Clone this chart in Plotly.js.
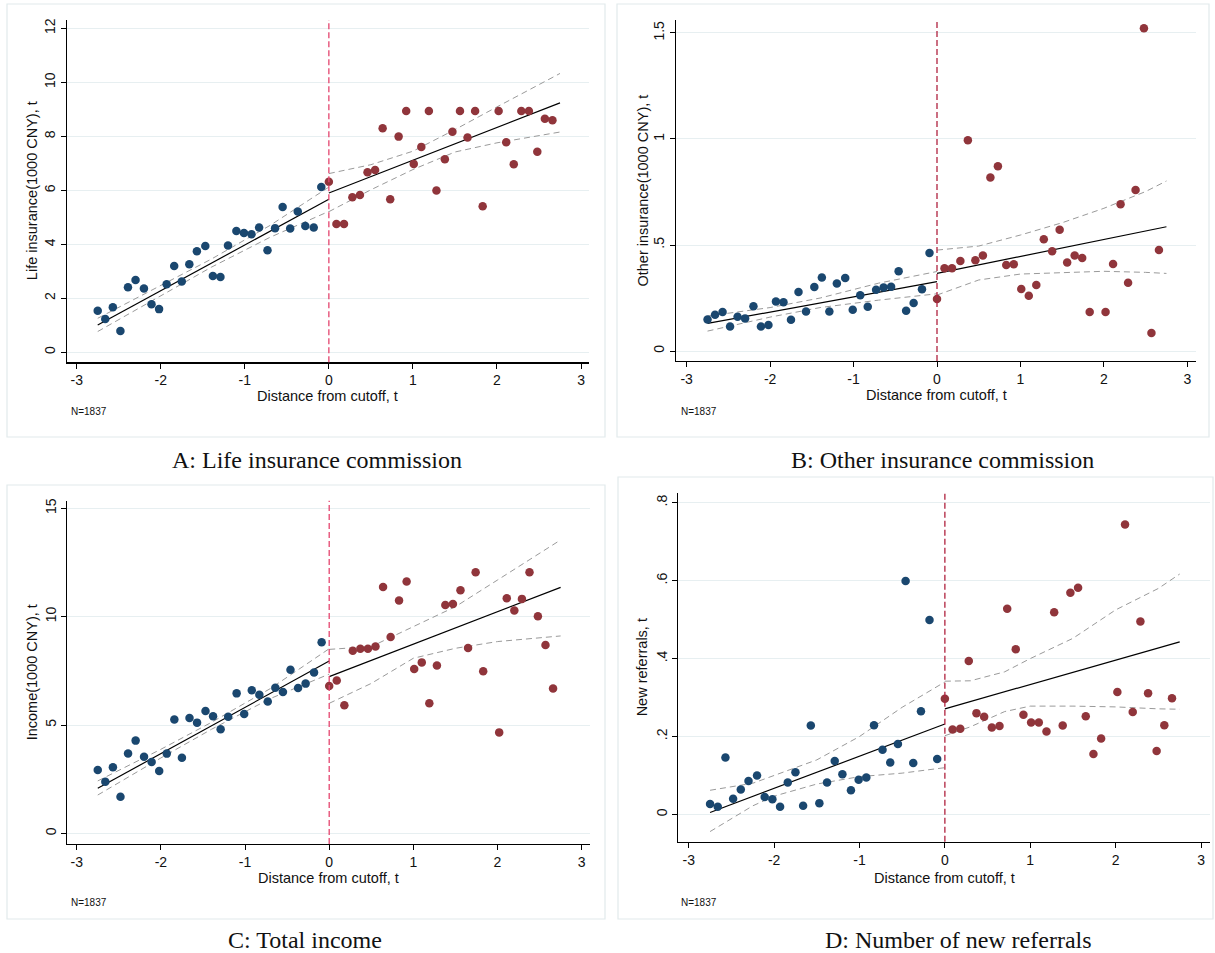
<!DOCTYPE html>
<html>
<head>
<meta charset="utf-8">
<script src="https://cdn.plot.ly/plotly-3.0.1.min.js"></script>
<style>
  html, body { margin: 0; padding: 0; background: #ffffff; }
  #chart { width: 1215px; height: 953px; }
</style>
</head>
<body>
<div id="chart"></div>
<script>
// Bin positions (distance from cutoff, t) shared by all four panels
const binLeft = [-2.75, -2.66, -2.57, -2.48, -2.39, -2.30, -2.20, -2.11, -2.02, -1.93,
                 -1.84, -1.75, -1.66, -1.57, -1.47, -1.38, -1.29, -1.20, -1.10, -1.01,
                 -0.92, -0.83, -0.73, -0.64, -0.55, -0.46, -0.37, -0.28, -0.18, -0.09];
const binRight = [0.00, 0.09, 0.18, 0.28, 0.37, 0.46, 0.55, 0.64, 0.73, 0.83,
                  0.92, 1.01, 1.10, 1.19, 1.28, 1.38, 1.47, 1.56, 1.65, 1.74,
                  1.83, 2.02, 2.11, 2.20, 2.29, 2.38, 2.48, 2.57, 2.66];

// Panel A: life insurance commission (1000 CNY)
const lifeLeft = [1.54, 1.23, 1.67, 0.79, 2.41, 2.68, 2.36, 1.78, 1.60, 2.52,
                  3.20, 2.62, 3.26, 3.74, 3.94, 2.83, 2.79, 3.96, 4.49, 4.42,
                  4.37, 4.62, 3.78, 4.60, 5.38, 4.59, 5.22, 4.68, 4.62, 6.12];
const lifeRight = [6.32, 4.75, 4.75, 5.74, 5.83, 6.67, 6.75, 8.30, 5.67, 7.99,
                   8.94, 6.98, 7.61, 8.94, 5.99, 7.15, 8.17, 8.94, 7.96, 8.94,
                   5.41, 8.94, 7.78, 6.97, 8.94, 8.94, 7.43, 8.65, 8.60];

// Panel B: other insurance commission (1000 CNY)
const otherLeft = [0.149, 0.171, 0.184, 0.116, 0.162, 0.154, 0.211, 0.116, 0.123, 0.234,
                   0.230, 0.148, 0.278, 0.186, 0.302, 0.347, 0.186, 0.318, 0.344, 0.195,
                   0.263, 0.209, 0.289, 0.300, 0.303, 0.376, 0.190, 0.226, 0.291, 0.462];
const otherRight = [0.245, 0.390, 0.390, 0.425, 0.994, 0.428, 0.450, 0.818, 0.871, 0.406,
                    0.409, 0.292, 0.261, 0.311, 0.527, 0.470, 0.572, 0.417, 0.451, 0.439,
                    0.184, 0.184, 0.410, 0.692, 0.322, 0.759, 1.522, 0.085, 0.476];

// Panel C: total income (1000 CNY)
const incomeLeft = [2.92, 2.38, 3.05, 1.69, 3.69, 4.28, 3.54, 3.29, 2.88, 3.68,
                    5.25, 3.49, 5.32, 5.11, 5.65, 5.40, 4.80, 5.38, 6.46, 5.51,
                    6.60, 6.40, 6.08, 6.72, 6.52, 7.55, 6.71, 6.91, 7.42, 8.82];
const incomeRight = [6.80, 7.05, 5.91, 8.43, 8.52, 8.52, 8.62, 11.37, 9.06, 10.75,
                     11.62, 7.58, 7.89, 6.00, 7.75, 10.54, 10.58, 11.22, 8.55, 12.05,
                     7.48, 4.66, 10.85, 10.28, 10.82, 12.05, 10.02, 8.69, 6.68];

// Panel D: number of new referrals
const referLeft = [0.027, 0.020, 0.146, 0.040, 0.064, 0.086, 0.100, 0.045, 0.039, 0.020,
                   0.082, 0.108, 0.022, 0.228, 0.029, 0.082, 0.137, 0.103, 0.062, 0.089,
                   0.095, 0.229, 0.166, 0.133, 0.181, 0.599, 0.132, 0.265, 0.499, 0.142];
const referRight = [0.297, 0.218, 0.220, 0.394, 0.260, 0.251, 0.223, 0.227, 0.528, 0.424,
                    0.256, 0.236, 0.236, 0.213, 0.519, 0.228, 0.569, 0.582, 0.252, 0.155,
                    0.195, 0.314, 0.744, 0.263, 0.495, 0.311, 0.163, 0.229, 0.298];

// Fitted lines and 95% confidence bands on each side of the cutoff
const fitX = { left: [-2.75, 0], right: [0, 2.75] };
const lifeFit = { left: [1.01, 5.67], right: [5.90, 9.24] };
const otherFit = { left: [0.130, 0.327], right: [0.366, 0.586] };
const incomeFit = { left: [2.08, 7.95], right: [7.23, 11.35] };
const referFit = { left: [0.005, 0.232], right: [0.271, 0.443] };

const ciXLeft = [-2.75, -2.0, -1.4, -0.7, 0];
const ciXRight = [0, 0.5, 1.0, 1.5, 2.0, 2.5, 2.75];
const lifeCI = {
  leftUp: [1.26, 2.48, 3.45, 4.70, 6.12], leftLo: [0.77, 2.08, 3.15, 4.26, 5.22],
  rightUp: [6.62, 6.95, 7.45, 8.25, 9.09, 9.92, 10.33], rightLo: [5.21, 6.02, 6.77, 7.42, 7.76, 8.02, 8.16]
};
const otherCI = {
  leftUp: [0.165, 0.205, 0.250, 0.320, 0.375], leftLo: [0.094, 0.160, 0.205, 0.240, 0.270],
  rightUp: [0.476, 0.495, 0.547, 0.605, 0.673, 0.752, 0.802], rightLo: [0.264, 0.335, 0.363, 0.371, 0.376, 0.371, 0.366]
};
const incomeCI = {
  leftUp: [2.42, 3.88, 5.12, 6.68, 8.52], leftLo: [1.77, 3.48, 4.80, 6.22, 7.35],
  rightUp: [8.49, 8.62, 9.54, 10.46, 11.69, 12.92, 13.54], rightLo: [6.00, 6.92, 8.08, 8.54, 8.85, 9.03, 9.11]
};
const referCIXLeft = [-2.75, -2.25, -2.0, -1.5, -1.0, -0.5, 0];
const referCIXRight = [0, 0.3, 0.7, 1.0, 1.5, 2.0, 2.5, 2.75];
const referCI = {
  leftUp: [0.062, 0.080, 0.100, 0.140, 0.200, 0.275, 0.340], leftLo: [-0.044, 0.022, 0.047, 0.078, 0.097, 0.106, 0.120],
  rightUp: [0.342, 0.343, 0.366, 0.400, 0.452, 0.525, 0.580, 0.617], rightLo: [0.202, 0.225, 0.264, 0.278, 0.278, 0.276, 0.271, 0.270]
};

// Axis tick labels
const xTicks = [-3, -2, -1, 0, 1, 2, 3];
const lifeTicks = [0, 2, 4, 6, 8, 10, 12];
const otherTicks = [0, 0.5, 1, 1.5];
const otherTickText = ['0', '.5', '1', '1.5'];
const incomeTicks = [0, 5, 10, 15];
const referTicks = [0, 0.2, 0.4, 0.6, 0.8];
const referTickText = ['0', '.2', '.4', '.6', '.8'];

const yTitles = ['Life insurance(1000 CNY), t', 'Other insurance(1000 CNY), t', 'Income(1000 CNY), t', 'New referrals, t'];
const captions = ['A: Life insurance commission', 'B: Other insurance commission', 'C: Total income', 'D: Number of new referrals'];
const xTitle = 'Distance from cutoff, t';
const sampleNote = 'N=1837';

// ---- page geometry (pixels) ----
const W = 1215, H = 953;
const px = v => v / W;
const py = v => 1 - v / H;

const BLUE = '#1a476f';
const RED = '#90353b';
const GRID = '#e7eff1';
const SANS = 'Liberation Sans, Arial, sans-serif';
const SERIF = 'Liberation Serif, Times New Roman, serif';

const panels = [
  { id: '', plot: [66.7, 589, 20, 362.3], xr: [-3.119, 3.095], yr: [-0.37, 12.31],
    left: lifeLeft, right: lifeRight, fit: lifeFit, ci: lifeCI, ciL: ciXLeft, ciR: ciXRight,
    ticks: lifeTicks, tickText: lifeTicks.map(String), cut: '#e4466f',
    box: [7, 605, 4, 437], yTitleX: 32, xTitleY: 396, noteX: 69, noteY: 412, cap: [317, 460] },
  { id: '2', plot: [676, 1196, 20, 361], xr: [-3.128, 3.104], yr: [-0.047, 1.561],
    left: otherLeft, right: otherRight, fit: otherFit, ci: otherCI, ciL: ciXLeft, ciR: ciXRight,
    ticks: otherTicks, tickText: otherTickText, cut: '#b0223f',
    box: [617, 1209, 4, 437], yTitleX: 642, xTitleY: 395, noteX: 679, noteY: 412, cap: [942, 460] },
  { id: '3', plot: [67.3, 590, 500.7, 844], xr: [-3.112, 3.099], yr: [-0.49, 15.35],
    left: incomeLeft, right: incomeRight, fit: incomeFit, ci: incomeCI, ciL: ciXLeft, ciR: ciXRight,
    ticks: incomeTicks, tickText: incomeTicks.map(String), cut: '#e4466f',
    box: [7, 605, 485, 919], yTitleX: 32, xTitleY: 878, noteX: 69, noteY: 902, cap: [305, 940] },
  { id: '4', plot: [678.3, 1210, 493, 841.7], xr: [-3.122, 3.105], yr: [-0.070, 0.825],
    left: referLeft, right: referRight, fit: referFit, ci: referCI, ciL: referCIXLeft, ciR: referCIXRight,
    ticks: referTicks, tickText: referTickText, cut: '#b0223f',
    box: [618, 1213, 477, 919], yTitleX: 642, xTitleY: 878, noteX: 679, noteY: 902, cap: [958, 940] }
];

const traces = [];
const shapes = [];
const annotations = [];
const layout = {
  width: W, height: H,
  margin: { l: 0, r: 0, t: 0, b: 0 },
  paper_bgcolor: '#ffffff', plot_bgcolor: '#ffffff',
  showlegend: false,
  hovermode: false,
  font: { family: SANS, color: '#111111' }
};

panels.forEach((p, i) => {
  const xa = 'x' + p.id, ya = 'y' + p.id;
  const dashCI = { color: '#9a9a9a', width: 1, dash: '6px,4px' };
  const band = (x, y) => traces.push({ x: x, y: y, xaxis: xa, yaxis: ya, type: 'scatter', mode: 'lines', line: dashCI });
  band(p.ciL, p.ci.leftUp);
  band(p.ciL, p.ci.leftLo);
  band(p.ciR, p.ci.rightUp);
  band(p.ciR, p.ci.rightLo);
  traces.push({ x: fitX.left, y: p.fit.left, xaxis: xa, yaxis: ya, type: 'scatter', mode: 'lines', line: { color: '#000000', width: 1.2 } });
  traces.push({ x: fitX.right, y: p.fit.right, xaxis: xa, yaxis: ya, type: 'scatter', mode: 'lines', line: { color: '#000000', width: 1.2 } });
  traces.push({ x: binLeft, y: p.left, xaxis: xa, yaxis: ya, type: 'scatter', mode: 'markers',
    marker: { color: BLUE, size: 8.5, symbol: 'circle' } });
  traces.push({ x: binRight, y: p.right, xaxis: xa, yaxis: ya, type: 'scatter', mode: 'markers',
    marker: { color: RED, size: 8.5, symbol: 'circle' } });

  layout['xaxis' + p.id] = {
    domain: [px(p.plot[0]), px(p.plot[1])], range: p.xr, anchor: ya,
    tickvals: xTicks, ticktext: xTicks.map(String),
    ticks: 'outside', ticklen: 5, tickwidth: 1, tickcolor: '#000000',
    showline: true, linecolor: '#000000', linewidth: 1.2, mirror: false,
    showgrid: false, zeroline: false, fixedrange: true,
    tickfont: { family: SANS, size: 14, color: '#111111' }
  };
  layout['yaxis' + p.id] = {
    domain: [py(p.plot[3]), py(p.plot[2])], range: p.yr, anchor: xa,
    tickvals: p.ticks, ticktext: p.tickText, tickangle: -90,
    ticks: 'outside', ticklen: 5, tickwidth: 1, tickcolor: '#000000',
    showline: true, linecolor: '#000000', linewidth: 1.2, mirror: false,
    showgrid: true, gridcolor: GRID, gridwidth: 1, zeroline: false, fixedrange: true,
    tickfont: { family: SANS, size: 14, color: '#111111' }
  };

  // cutoff marker at t = 0
  shapes.push({ type: 'line', xref: xa, yref: ya + ' domain', x0: 0, x1: 0, y0: 0, y1: 1,
    line: { color: p.cut, width: 1.3, dash: '6px,3px' }, layer: 'above' });
  // panel frame
  shapes.push({ type: 'rect', xref: 'paper', yref: 'paper',
    x0: px(p.box[0]), x1: px(p.box[1]), y0: py(p.box[3]), y1: py(p.box[2]),
    line: { color: '#e1eaec', width: 1.2 }, fillcolor: 'rgba(0,0,0,0)', layer: 'below' });

  const plotMidY = (p.plot[2] + p.plot[3]) / 2;
  annotations.push({ xref: 'paper', yref: 'paper', x: px(p.yTitleX), y: py(plotMidY),
    text: yTitles[i], showarrow: false, textangle: -90,
    xanchor: 'center', yanchor: 'middle', font: { family: SANS, size: 14.5, color: '#111111' } });
  annotations.push({ xref: 'paper', yref: 'paper', x: px((p.plot[0] + p.plot[1]) / 2), y: py(p.xTitleY),
    text: xTitle, showarrow: false, xanchor: 'center', yanchor: 'middle',
    font: { family: SANS, size: 14.5, color: '#111111' } });
  annotations.push({ xref: 'paper', yref: 'paper', x: px(p.noteX), y: py(p.noteY),
    text: sampleNote, showarrow: false, xanchor: 'left', yanchor: 'middle',
    font: { family: SANS, size: 10, color: '#111111' } });
  annotations.push({ xref: 'paper', yref: 'paper', x: px(p.cap[0]), y: py(p.cap[1]),
    text: captions[i], showarrow: false, xanchor: 'center', yanchor: 'middle',
    font: { family: SERIF, size: 24, color: '#111111' } });
});

layout.shapes = shapes;
layout.annotations = annotations;

Plotly.newPlot('chart', traces, layout, { displayModeBar: false, staticPlot: true });
</script>
</body>
</html>
